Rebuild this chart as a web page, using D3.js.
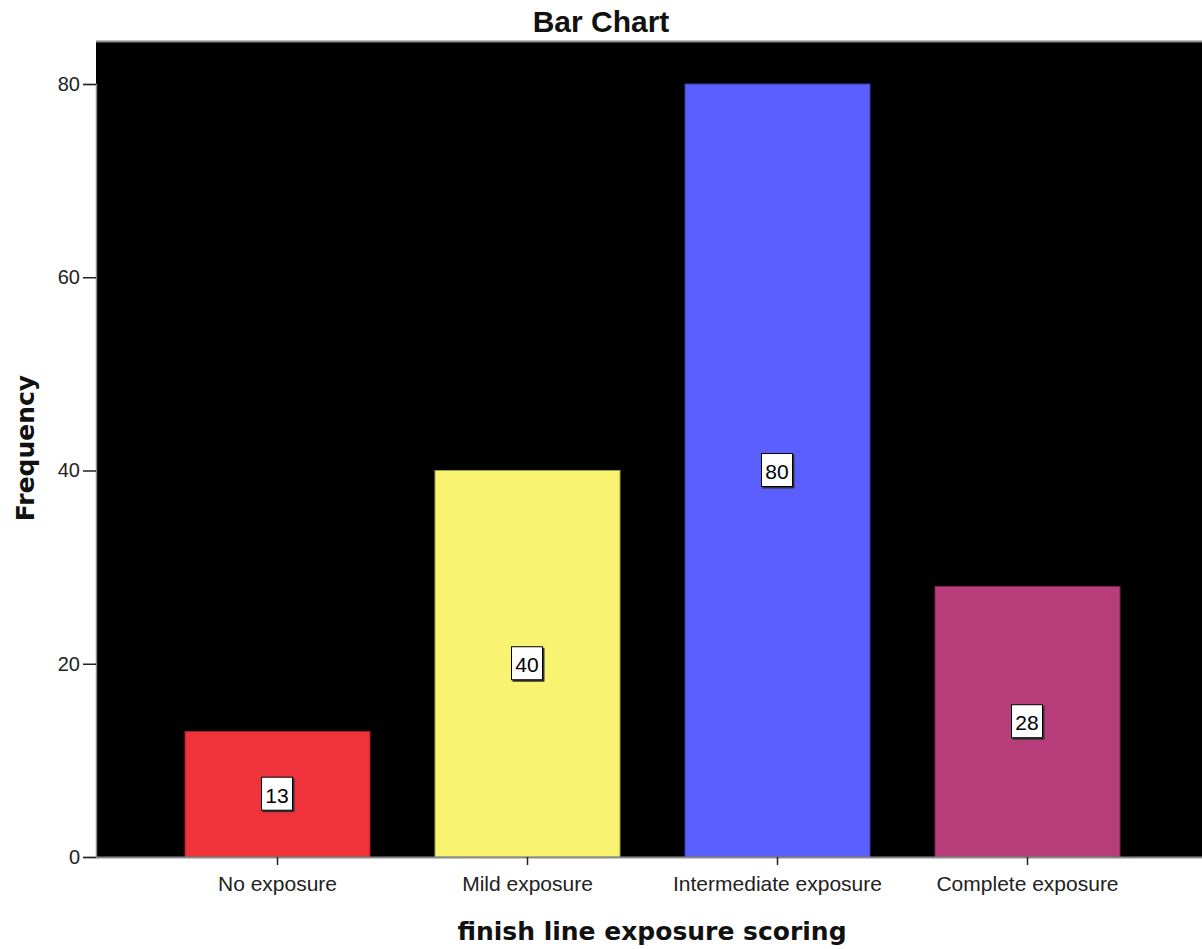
<!DOCTYPE html>
<html>
<head>
<meta charset="utf-8">
<script src="https://cdn.jsdelivr.net/npm/d3@7"></script>
<style>
  html, body { margin: 0; padding: 0; background: #fff; }
  svg { display: block; }
</style>
</head>
<body>
<script>
// Frequency table for the exposure scoring variable
const categories = ["No exposure", "Mild exposure", "Intermediate exposure", "Complete exposure"];
const frequencies = [13, 40, 80, 28];
const barColors = ["#f0333a", "#f8f472", "#5b5ffe", "#b83e7b"];
const yTicks = [0, 20, 40, 60, 80];

const W = 1202, H = 949;
const plot = { left: 96, right: 1202, top: 42, bottom: 857 };

const svg = d3.select("body").append("svg")
  .attr("width", W).attr("height", H);

const x = d3.scaleBand()
  .domain(categories)
  .range([152.5, 1152.5])
  .paddingInner(0.26)
  .paddingOuter(0.13);

const y = d3.scaleLinear()
  .domain([0, 80])
  .range([plot.bottom, 84]);

// Plot background
svg.append("rect")
  .attr("x", plot.left).attr("y", plot.top)
  .attr("width", plot.right - plot.left).attr("height", plot.bottom - plot.top)
  .attr("fill", "#000");
svg.append("line")
  .attr("x1", plot.left).attr("x2", plot.right)
  .attr("y1", plot.top - 0.5).attr("y2", plot.top - 0.5)
  .attr("stroke", "#8a8a8a").attr("stroke-width", 2);

// Bars
svg.append("g").selectAll("rect")
  .data(categories)
  .join("rect")
  .attr("x", d => x(d))
  .attr("y", (d, i) => y(frequencies[i]))
  .attr("width", x.bandwidth())
  .attr("height", (d, i) => y(0) - y(frequencies[i]))
  .attr("fill", (d, i) => barColors[i])
  .attr("stroke", (d, i) => d3.color(barColors[i]).darker(1.2))
  .attr("stroke-width", 1);

// Value labels in boxes at the middle of each bar
const labels = svg.append("g").selectAll("g")
  .data(categories)
  .join("g")
  .attr("transform", (d, i) => `translate(${x(d) + x.bandwidth() / 2},${y(frequencies[i] / 2)})`);
labels.append("rect")
  .attr("x", -15).attr("y", -16).attr("width", 32).attr("height", 34)
  .attr("fill", "#333");
labels.append("rect")
  .attr("x", -16).attr("y", -17).attr("width", 31).attr("height", 33)
  .attr("fill", "#fff").attr("stroke", "#000").attr("stroke-width", 1);
labels.append("text")
  .attr("x", -0.5).attr("y", 1)
  .attr("text-anchor", "middle").attr("dominant-baseline", "central")
  .attr("font-family", "Liberation Sans, Arial, sans-serif")
  .attr("font-size", 21).attr("fill", "#000")
  .text((d, i) => frequencies[i]);

// Y axis
const yAxis = svg.append("g")
  .attr("transform", `translate(${plot.left},0)`)
  .call(d3.axisLeft(y).tickValues(yTicks).tickSize(13).tickPadding(3));
yAxis.select(".domain").attr("stroke", "#8a8a8a").attr("stroke-width", 1.5);
yAxis.selectAll(".tick line").attr("stroke", "#222").attr("stroke-width", 1.5);
yAxis.selectAll(".tick text")
  .attr("font-family", "Liberation Sans, Arial, sans-serif")
  .attr("font-size", 20).attr("fill", "#222");

// X axis
const xAxis = svg.append("g")
  .attr("transform", `translate(0,${plot.bottom})`)
  .call(d3.axisBottom(x).tickSize(8).tickPadding(11).tickSizeOuter(0));
xAxis.select(".domain")
  .attr("d", `M${plot.left},0.5H${plot.right}`)
  .attr("stroke", "#8a8a8a").attr("stroke-width", 2);
xAxis.selectAll(".tick line").attr("stroke", "#222").attr("stroke-width", 1.5);
xAxis.selectAll(".tick text")
  .attr("font-family", "Liberation Sans, Arial, sans-serif")
  .attr("font-size", 21).attr("fill", "#222");

// Titles
svg.append("text")
  .attr("x", W / 2).attr("y", 32)
  .attr("text-anchor", "middle")
  .attr("font-family", "Liberation Sans, Arial, sans-serif")
  .attr("font-weight", "bold").attr("font-size", 30).attr("fill", "#111")
  .text("Bar Chart");

svg.append("text")
  .attr("x", 652).attr("y", 940)
  .attr("text-anchor", "middle")
  .attr("font-family", "DejaVu Sans, sans-serif")
  .attr("font-weight", "bold").attr("font-size", 25).attr("fill", "#111")
  .text("finish line exposure scoring");

svg.append("text")
  .attr("transform", `translate(34,448) rotate(-90)`)
  .attr("text-anchor", "middle")
  .attr("font-family", "DejaVu Sans, sans-serif")
  .attr("font-weight", "bold").attr("font-size", 25).attr("fill", "#111")
  .text("Frequency");
</script>
</body>
</html>
